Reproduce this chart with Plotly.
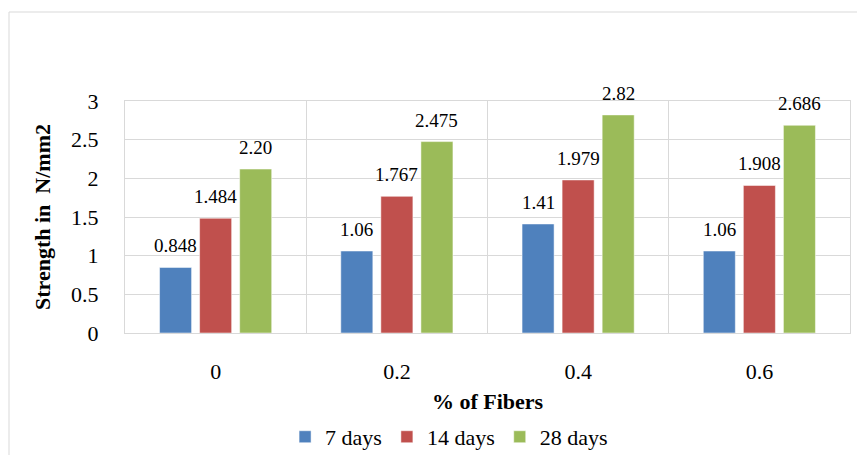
import plotly.graph_objects as go

categories = ["0", "0.2", "0.4", "0.6"]
series_names = ["7 days", "14 days", "28 days"]
days7 = [0.848, 1.06, 1.41, 1.06]
days14 = [1.484, 1.767, 1.979, 1.908]
days28 = [2.12, 2.475, 2.82, 2.686]
labels7 = ["0.848", "1.06", "1.41", "1.06"]
labels14 = ["1.484", "1.767", "1.979", "1.908"]
labels28 = ["2.20", "2.475", "2.82", "2.686"]
y_ticks = [0, 0.5, 1, 1.5, 2, 2.5, 3]
y_tick_text = ["0", "0.5", "1", "1.5", "2", "2.5", "3"]

colors = ["#4F81BD", "#C0504D", "#9BBB59"]
FONT = "Liberation Serif"
BARGAP = 0.337
xpos = list(range(len(categories)))

W, H = 857, 447
L, R, T, B = 117, 15, 93, 122
PW, PH = W - L - R, H - T - B

fig = go.Figure()
all_vals = [days7, days14, days28]
all_labels = [labels7, labels14, labels28]
for name, vals, col in zip(series_names, all_vals, colors):
    fig.add_trace(go.Bar(
        x=xpos, y=vals, name=name,
        marker=dict(color=col, line=dict(color="rgba(255,255,255,0.5)", width=1)),
    ))

slot = (1 - BARGAP) / 3
annotations = []
for i, (vals, labs) in enumerate(zip(all_vals, all_labels)):
    for xi, v, t in zip(xpos, vals, labs):
        annotations.append(dict(
            x=xi + (i - 1) * slot, y=v, xref="x", yref="y", text=t,
            showarrow=False, yanchor="bottom", yshift=9,
            font=dict(family=FONT, size=19, color="#000000"),
        ))

fig.update_layout(
    width=W, height=H,
    margin=dict(l=L, r=R, t=T, b=B, autoexpand=False),
    paper_bgcolor="white", plot_bgcolor="white",
    barmode="group", bargap=BARGAP, bargroupgap=0.2,
    font=dict(family=FONT, size=22, color="#000000"),
    annotations=annotations,
    showlegend=True,
    legend=dict(orientation="h", x=0.447, xanchor="center", y=-0.448, yanchor="middle",
                font=dict(family=FONT, size=22), traceorder="normal",
                itemwidth=30, tracegroupgap=0),
    shapes=[dict(type="rect", xref="paper", yref="paper",
                 x0=(1 - L) / PW, x1=(W + 20 - L) / PW,
                 y0=-(H + 20 - (H - B)) / PH, y1=(H - B - 4) / PH,
                 line=dict(color="#d9d9d9", width=1), fillcolor="rgba(0,0,0,0)",
                 layer="below")],
)
fig.update_xaxes(
    range=[-0.5, 3.5], tickvals=xpos, ticktext=categories,
    showgrid=False, showline=True, mirror=True, linecolor="#d9d9d9", linewidth=1,
    ticks="", ticklabelstandoff=19, automargin=False,
    minor=dict(tickvals=[0.5, 1.5, 2.5], showgrid=True, gridcolor="#d9d9d9", gridwidth=1),
    title=dict(text="<b>% of Fibers</b>", font=dict(family=FONT, size=22), standoff=10),
    tickfont=dict(family=FONT, size=22),
    zeroline=False,
)
fig.update_yaxes(
    range=[0, 3], tickvals=y_ticks, ticktext=y_tick_text,
    showgrid=True, gridcolor="#d9d9d9", gridwidth=1,
    showline=True, mirror=True, linecolor="#d9d9d9", linewidth=1,
    ticks="", ticklabelstandoff=21, zeroline=False, automargin=False,
    title=dict(text="<b>Strength in  N/mm2</b>", font=dict(family=FONT, size=22), standoff=14),
    tickfont=dict(family=FONT, size=22),
)
fig.write_html("out.html")
